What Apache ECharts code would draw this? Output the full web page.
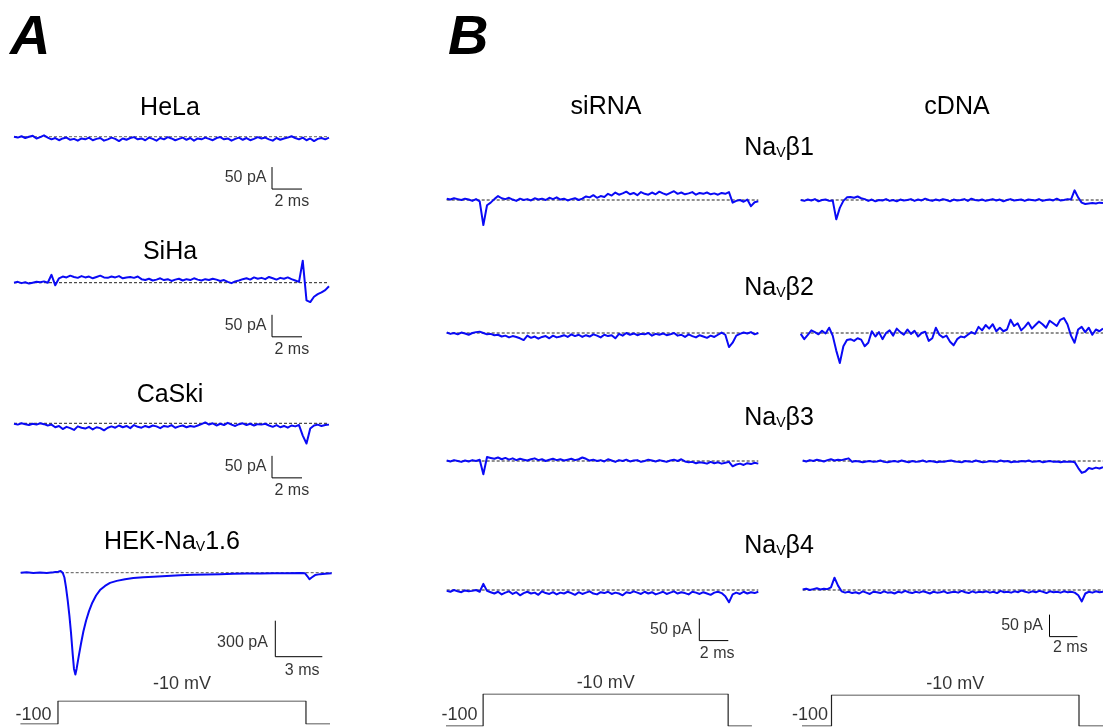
<!DOCTYPE html>
<html>
<head>
<meta charset="utf-8">
<script src="https://cdn.jsdelivr.net/npm/echarts@6/dist/echarts.min.js"></script>
<style>
  html, body { margin: 0; padding: 0; background: #fff; }
  #chart { width: 1103px; height: 728px; }
</style>
</head>
<body>
<div id="chart"></div>
<script>
// ---------------------------------------------------------------
// Whole-cell currents (pA, relative to the holding baseline).
// Each sweep is sampled uniformly over its duration.
// ---------------------------------------------------------------
const sweepCellLinesMs = 21;     // HeLa / SiHa / CaSki sweeps
const sweepBetaMs = 21.5;        // NaV beta siRNA / cDNA sweeps

const helaCurrent = [
  0,-2,1,-3,0,2,-4,-1,3,-2,
  -6,-3,-8,-4,-2,-7,-5,-9,-4,-6,
  -2,-8,-5,-3,-9,-6,-2,-5,-10,-4,
  -7,-3,-1,-6,-4,-8,-2,-5,-9,-3,
  -6,-1,-4,-8,-5,-2,-7,-3,-9,-4,
  -6,-2,-5,-8,-3,-1,-6,-4,-9,-5,
  -2,-7,-3,-8,-5,-1,-4,-2,-6,-9,
  -3,-7,-4,-2,1,-3,-6,-2,-8,-4,
  -10,-5,-3,-6,-2
];
const sihaCurrent = [
  0,2,-1,1,-2,0,2,1,3,0,
  18,-6,
  10,14,12,16,13,11,15,12,14,10,13,16,12,11,14,12,15,10,12,13,11,14,
  8,6,9,5,7,10,6,8,4,7,9,5,8,6,10,7,5,8,6,9,7,4,6,2,-1,3,5,
  8,10,7,12,9,11,8,13,10,7,11,9,12,8,5,
  2,50,-40,-44,-32,-26,-22,-17,-8
];
const caskiCurrent = [
  -1,-3,0,-2,-4,-1,-3,0,-2,-5,-3,
  -9,-6,-13,-8,-11,-15,-7,-10,-12,-8,-14,-9,-11,-16,-10,
  -7,-10,-5,-9,-6,-11,-4,-8,-10,-6,-9,-5,-7,-11,-6,-8,-4,-10,-7,-5,-9,-6,-8,-5,
  -2,2,-3,0,-5,-1,-4,1,-3,-6,-2,0,-4,-1,-5,-2,-3,-1,
  -5,-8,-4,-9,-6,-10,-5,-7,-4,
  -28,-46,-12,-5,-3,-6,-4,-3
];
// HEK-NaV1.6: sampled at irregular times (ms) to follow the fast transient
const hekTime = [
  0,0.38,0.81,1.23,1.66,2.09,2.40,2.55,2.68,2.79,2.89,
  3.00,3.11,3.21,3.32,3.40,3.49,3.57,3.70,3.85,
  4.00,4.17,4.36,4.57,4.81,5.06,5.38,5.70,6.13,6.66,7.19,7.83,8.47,9.32,
  10.17,11.02,11.87,12.72,13.57,14.43,15.28,16.13,16.98,17.83,
  18.15,18.30,18.43,18.57,18.79,19.11,19.43,19.85
];
const hekCurrent = [
  0,3,-3,2,-2,3,8,14,0,-40,-120,
  -230,-360,-500,-680,-800,-848,-800,-700,-590,
  -490,-400,-320,-250,-190,-145,-110,-85,-68,-55,-45,-38,-33,-27,
  -22,-18,-14,-12,-9,-7,-6,-5,-4,-3,
  -5,-30,-55,-40,-20,-12,-8,-5
];

const siRnaBeta1 = [
  3,1,4,2,0,3,1,-2,2,-3,
  -57,-12,-6,2,9,
  4,2,5,1,-2,3,0,2,-1,4,1,3,0,5,2,6,1,3,-1,2,4,0,3,
  8,6,11,5,9,7,
  14,10,17,12,15,19,13,16,11,18,14,12,17,13,19,15,12,16,20,14,
  17,13,15,18,12,16,14,17,13,15,12,16,14,18,
  -6,-2,0,-4,1,-14,-5,-3
];
const cDnaBeta1 = [
  0,-2,1,-1,2,-3,0,1,-2,-1,
  -44,-18,-2,6,7,5,8,4,2,
  -2,1,-3,0,-1,2,-2,0,-3,1,
  -1,0,2,-2,1,-1,3,0,-2,1,
  -1,2,0,-3,1,-1,0,2,-2,3,
  0,-1,1,-2,0,2,-1,1,-3,0,
  2,-1,0,1,-2,1,0,-1,2,-2,
  0,1,-1,3,-1,0,2,1,
  22,6,-6,-9,-8,-7,-8,-6,-7
];
const siRnaBeta2 = [
  1,-2,0,-3,1,-1,-4,0,2,3,
  0,-3,-2,-5,-4,-8,-6,-10,-7,-9,-12,
  -16,-6,-11,-8,-13,-9,-7,-12,-6,-10,-8,-5,-9,
  -3,-7,-4,-9,-5,-8,-3,-6,-10,-4,-7,-5,-12,
  -2,-6,0,-4,-1,-5,-2,-3,0,-6,-2,-4,-1,-5,-3,
  0,-6,-4,-9,-3,-7,-10,-5,-8,-11,-6,-9,-4,
  1,-4,-32,-22,-6,
  -2,1,-1,2,-3,0
];
const cDnaBeta2 = [
  -2,-14,-4,6,2,-3,5,-1,12,-6,
  -40,-68,-30,-16,-14,-18,-12,-15,-30,-22,
  4,-8,2,-14,0,6,-6,10,2,-4,8,-2,5,-8,0,3,
  -18,-12,12,-4,-10,-6,-20,-28,-14,-8,-10,
  -4,2,-2,14,6,18,10,20,4,12,
  4,8,30,16,
  22,6,14,24,10,18,26,20,12,28,22,16,30,
  34,20,-6,-22,8,
  14,2,12,-4,8,4,10
];
const siRnaBeta3 = [
  1,-1,2,0,-2,1,-1,2,0,3,
  -30,9,7,
  5,8,4,7,3,6,2,5,3,1,4,6,2,4,0,3,5,2,4,1,3,5,2,4,
  8,5,
  1,3,0,2,-1,4,1,-2,2,0,3,-1,1,2,-2,0,3,1,-1,2,0,-2,1,3,0,
  4,
  -1,-3,-2,-5,-3,-4,-6,-2,-5,-3,-6,-4,-2,-12,
  -8,-6,-9,-5,-7,-4,-6
];
const cDnaBeta3 = [
  1,-1,2,0,3,1,-1,2,4,1,3,2,4,6,
  -2,0,-1,-3,-1,0,-2,-1,1,-2,
  -3,-1,0,-2,1,-1,-3,0,-2,-1,
  1,-2,0,-1,-3,-1,-2,0,1,-1,
  -2,-3,0,-1,-2,1,-1,-3,-2,0,
  -1,-2,1,-1,0,-3,-1,-2,0,-1,
  1,-2,-1,0,-3,-1,0,-2,-1,-3,
  -1,-2,-1,
  -3,-16,-27,-24,-16,-18,-15,-17,-14
];
const siRnaBeta4 = [
  -2,-4,0,-3,-5,-1,-3,-2,0,-4,
  14,-2,
  -5,-8,-4,-10,-6,-3,-9,-5,-12,-7,
  -4,-8,-6,-11,-3,-7,-9,-5,-10,-6,
  -8,-4,-7,-11,-5,-9,-6,-3,-8,-10,
  -5,-7,-4,-9,-6,-8,-12,-5,-7,-3,
  -6,-9,-4,-8,-5,-10,-7,-4,-9,-6,
  -3,-8,-5,-7,-10,-4,-6,-9,-5,-8,
  -11,-6,-4,-7,
  -14,-28,-10,
  -6,-9,-4,-8,-5,-7,-4
];
const cDnaBeta4 = [
  1,3,0,2,4,1,3,2,6,
  28,10,-3,
  -6,-4,-7,-5,-8,-3,-6,-9,-4,-5,
  -7,-3,-6,-5,-8,-4,-6,-2,-5,-7,
  -4,-6,-3,-5,-8,-4,-6,-5,-3,-7,
  -5,-4,-6,-2,-5,-7,-3,-6,-4,-5,
  -3,-6,-4,-7,-2,-5,-4,-6,-3,-5,
  -1,-4,-6,-3,-5,-2,-4,-7,-3,-5,
  -4,-6,-3,-5,-4,-6,
  -12,-26,-8,
  -4,-6,-3,-5,-4
];

// Voltage protocol: step from -100 mV to -10 mV
const stepTime = [0, 2.5, 2.5, 19, 19, 20.6];      // ms
const stepVoltage = [-100, -100, -10, -10, -100, -100]; // mV

// Scale-bar sizes
const scaleSmall = { pA: 50, ms: 2 };
const scaleHek = { pA: 300, ms: 3 };

// ---------------------------------------------------------------
// Layout
// ---------------------------------------------------------------
const FONT = '"Liberation Sans", Arial, Helvetica, sans-serif';
const TRACE_COLOR = '#0a0af5';

const grid = [], xAxis = [], yAxis = [], series = [];

function addGrid(g) {
  const idx = grid.length;
  grid.push({ left: g.left, top: g.top, width: g.width, height: g.height });
  xAxis.push({ gridIndex: idx, type: 'value', min: g.xMin, max: g.xMax, show: false, splitLine: { show: false } });
  yAxis.push({ gridIndex: idx, type: 'value', min: g.yMin, max: g.yMax, show: false, splitLine: { show: false } });
  return idx;
}

const hiddenPoint = { color: 'rgba(0,0,0,0)' };
const labelText = { color: '#000', fontFamily: FONT, fontSize: 16 };

function addTrace(c) {
  const idx = addGrid({
    left: c.left, width: c.width,
    top: c.baseY - c.up * c.pxPerPA, height: (c.up + c.down) * c.pxPerPA,
    xMin: 0, xMax: c.span, yMin: -c.down, yMax: c.up
  });
  const n = c.values.length;
  const times = c.times || c.values.map((_, k) => k * c.span / (n - 1));
  // zero-current reference
  series.push({
    type: 'line', xAxisIndex: idx, yAxisIndex: idx, silent: true, z: 2,
    data: [[0, 0], [c.span, 0]], symbol: 'none',
    lineStyle: { color: c.dashColor || '#222', width: 1, type: [3, 2] }
  });
  // recorded current
  series.push({
    type: 'line', xAxisIndex: idx, yAxisIndex: idx, silent: true, z: 3,
    data: times.map((t, k) => [t, c.values[k]]), symbol: 'none',
    lineStyle: { color: TRACE_COLOR, width: 2, join: 'round' }
  });
  if (c.bar) {
    const b = c.bar, s = b.scale;
    series.push({
      type: 'line', xAxisIndex: idx, yAxisIndex: idx, silent: true, z: 2,
      data: [[b.t, b.v + s.pA], [b.t, b.v], [b.t + s.ms, b.v]], symbol: 'none',
      lineStyle: { color: '#000', width: 1 }
    });
    series.push({
      type: 'scatter', xAxisIndex: idx, yAxisIndex: idx, silent: true, z: 4,
      symbolSize: 1, itemStyle: hiddenPoint,
      data: [
        { value: [b.t, b.v + s.pA / 2],
          label: Object.assign({ show: true, formatter: s.pA + ' pA', position: 'left', distance: b.gapV, offset: b.offV || [0, 0] }, labelText) },
        { value: [b.t, b.v],
          label: Object.assign({ show: true, formatter: s.ms + ' ms', position: b.posT }, labelText) }
      ]
    });
  }
}

function addProtocol(c) {
  const xMax = stepTime[stepTime.length - 1];
  const idx = addGrid({
    left: c.left, width: (xMax - c.xMin) * c.pxPerMs,
    top: c.top, height: c.bottom - c.top,
    xMin: c.xMin, xMax: xMax, yMin: -100, yMax: -10
  });
  series.push({
    type: 'line', xAxisIndex: idx, yAxisIndex: idx, silent: true,
    data: stepTime.map((t, k) => [t, stepVoltage[k]]), symbol: 'none',
    lineStyle: { color: '#222', width: 1.2 }
  });
  series.push({
    type: 'scatter', xAxisIndex: idx, yAxisIndex: idx, silent: true,
    symbolSize: 1, itemStyle: hiddenPoint,
    data: [
      { value: [(stepTime[2] + stepTime[3]) / 2, stepVoltage[2]],
        label: Object.assign({ show: true, formatter: stepVoltage[2] + ' mV', position: 'top', distance: c.gapTop }, labelText, { fontSize: 18 }) },
      { value: [stepTime[1], stepVoltage[1]],
        label: Object.assign({ show: true, formatter: String(stepVoltage[0]), position: 'left', distance: c.gapLeft, offset: [0, c.liftLeft] }, labelText, { fontSize: 18 }) }
    ]
  });
}

// Panel A: cell lines
const pxA = 0.44;
addTrace({ left: 14, width: 315, span: sweepCellLinesMs, baseY: 136.7, pxPerPA: pxA, up: 60, down: 130,
  values: helaCurrent, dashColor: '#666',
  bar: { scale: scaleSmall, t: 17.2, v: -119, gapV: 5, posT: [3, 5] } });
addTrace({ left: 14, width: 315, span: sweepCellLinesMs, baseY: 282.7, pxPerPA: pxA, up: 60, down: 130,
  values: sihaCurrent,
  bar: { scale: scaleSmall, t: 17.2, v: -123, gapV: 5, posT: [3, 5] } });
addTrace({ left: 14, width: 315, span: sweepCellLinesMs, baseY: 423.3, pxPerPA: pxA, up: 60, down: 130,
  values: caskiCurrent,
  bar: { scale: scaleSmall, t: 17.2, v: -124, gapV: 5, posT: [3, 5] } });
addTrace({ left: 20.7, width: 311, span: 19.85, baseY: 572.7, pxPerPA: 0.12, up: 100, down: 900,
  values: hekCurrent, times: hekTime, dashColor: '#555',
  bar: { scale: scaleHek, t: 16.25, v: -700, gapV: 7, offV: [0, 4], posT: [10, 6] } });
addProtocol({ left: 20.4, pxPerMs: 15.03, xMin: 0, top: 701, bottom: 724, gapTop: 7, gapLeft: 6, liftLeft: -9 });

// Panel B: NaV beta subunits, siRNA (left) and cDNA (right)
const pxB = 0.44;
const rowsB = [
  { base: 200, si: siRnaBeta1, cd: cDnaBeta1, cdLeft: 800.7 },
  { base: 333, si: siRnaBeta2, cd: cDnaBeta2, cdLeft: 800.7 },
  { base: 461, si: siRnaBeta3, cd: cDnaBeta3, cdLeft: 802.7 },
  { base: 590, si: siRnaBeta4, cd: cDnaBeta4, cdLeft: 802.7 }
];
rowsB.forEach((r, k) => {
  const last = k === rowsB.length - 1;
  addTrace({ left: 446.7, width: 311.6, span: sweepBetaMs, baseY: r.base, pxPerPA: pxB, up: 50, down: 130,
    values: r.si,
    bar: last ? { scale: scaleSmall, t: 17.43, v: -115, gapV: 7, posT: [1, 5] } : null });
  addTrace({ left: r.cdLeft, width: 311.6, span: sweepBetaMs, baseY: r.base, pxPerPA: pxB, up: 50, down: 130,
    values: r.cd,
    bar: last ? { scale: scaleSmall, t: 17.67, v: -106, gapV: 6, posT: [4, 3] } : null });
});
addProtocol({ left: 446, pxPerMs: 14.85, xMin: 0, top: 694, bottom: 726, gapTop: 1, gapLeft: 5, liftLeft: -11 });
addProtocol({ left: 803, pxPerMs: 15.58, xMin: 0.6, top: 695, bottom: 726, gapTop: 1, gapLeft: 3, liftLeft: -11 });

// ---------------------------------------------------------------
// Text: panel letters, titles
// ---------------------------------------------------------------
function text(str, x, y, size, extra) {
  return { type: 'text', x: x, y: y, silent: true,
    style: Object.assign({ text: str, fill: '#000', fontFamily: FONT, fontSize: size, align: 'center', verticalAlign: 'middle' }, extra || {}) };
}
// main text with a lowered "V" subscript
const subRich = {
  m: { fontFamily: FONT, fontSize: 25, fill: '#000' },
  s: { fontFamily: FONT, fontSize: 14, fill: '#000', verticalAlign: 'bottom', lineHeight: 7 }
};
function subText(before, after, x, y) {
  return { type: 'text', x: x, y: y, silent: true,
    style: { text: '{m|' + before + '}{s|V}{m|' + after + '}', align: 'center', verticalAlign: 'middle', rich: subRich } };
}

const graphic = [
  text('A', 10, 39, 56, { align: 'left', fontWeight: 'bold', fontStyle: 'italic' }),
  text('B', 448, 39, 56, { align: 'left', fontWeight: 'bold', fontStyle: 'italic' }),
  text('HeLa', 170, 108, 25),
  text('SiHa', 170, 252, 25),
  text('CaSki', 170, 395, 25),
  subText('HEK-Na', '1.6', 172, 542),
  text('siRNA', 606, 107, 25),
  text('cDNA', 957, 107, 25),
  subText('Na', '\u03b21', 779, 148),
  subText('Na', '\u03b22', 779, 288),
  subText('Na', '\u03b23', 779, 418),
  subText('Na', '\u03b24', 779, 546)
];

const chart = echarts.init(document.getElementById('chart'), null, { renderer: 'canvas' });
chart.setOption({
  animation: false,
  backgroundColor: '#fff',
  grid, xAxis, yAxis, series, graphic
});
</script>
</body>
</html>
